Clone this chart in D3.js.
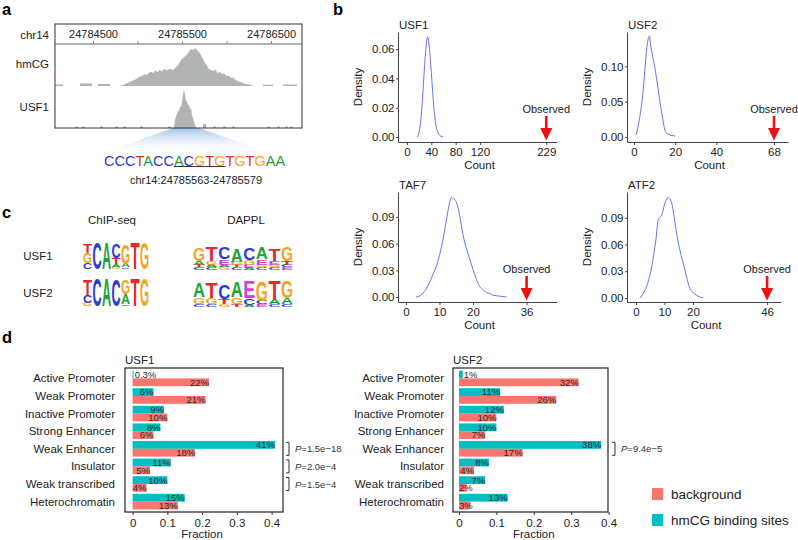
<!DOCTYPE html>
<html><head><meta charset="utf-8">
<script src="https://cdn.jsdelivr.net/npm/d3@7"></script>
<style>
body{margin:0;background:#fff}
svg{display:block;font-family:"Liberation Sans",Arial,sans-serif}
</style></head><body>
<svg id="fig" width="798" height="540"></svg>
<script>
// ---- panel a : genome browser tracks ----
let hmcgPos = [24784800,24784825,24784850,24784875,24784900,24784925,24784950,24784975,24785000,24785025,24785050,24785075,24785100,24785125,24785150,24785175,24785200,24785225,24785250,24785275,24785300,24785325,24785350,24785375,24785400,24785425,24785450,24785475,24785500,24785525,24785550,24785575,24785600,24785625,24785650,24785675,24785700,24785725,24785750,24785775,24785800,24785825,24785850,24785875,24785900,24785925,24785950,24785975,24786000,24786025,24786050,24786075,24786100,24786125,24786150,24786175,24786200,24786225,24786250,24786275,24786300];
let hmcgSig = [0,0.5,1.5,2.5,3.5,4.5,5.5,6.5,8,9.5,10,12,11,13,14.5,13,15.5,14,16,15,17,15.5,16.5,17,16,18.5,20,24,27,29,31,34,37,36,38,35,33,29,24,21,17,16,15,16.5,13,14,12,12.5,10,10.5,8,8.5,6,5,4,3.5,2.5,2,1.5,1,0];
let hmcgFlat = [[24784073,24784163,1],[24784354,24784489,2],[24784556,24784691,1.5],[24786410,24786522,0.8],[24786635,24786792,1]];
let usf1Pos = [24785410,24785421,24785433,24785444,24785455,24785466,24785478,24785489,24785500,24785511,24785522,24785534,24785545,24785556,24785567,24785579,24785590,24785601,24785612,24785624,24785635,24785646,24785657,24785669];
let usf1Sig = [0,8,12,14,18,16,22,20,27,33,39,33,26,28,22,24,18,20,13,10,6,3,1,0];
let usf1Blips = [[24784298,1.5],[24784376,1.5],[24784579,1.5],[24784747,1.5],[24784837,1.5],[24785028,1.5],[24785343,1.5],[24785736,4],[24785848,1.5],[24785961,1.5],[24786062,1.5],[24786455,1.5],[24786567,1.5],[24786657,1.5],[24786713,1.5]];
let browserTicks = [24784500,24785000,24785500,24786000,24786500];
let motifSeq = "CCCTACCACGTGTGTGAA";
let motifRegion = "chr14:24785563-24785579";

// ---- panel b : null distributions ----
let usf1Count = [17,19,21,23,25,27,29,31,33,34,35,36,38,40,42,44,46,48,50,52,54,56,59];
let usf1Dens  = [0,0.002,0.006,0.013,0.023,0.036,0.049,0.060,0.067,0.0685,0.067,0.064,0.055,0.044,0.032,0.021,0.013,0.007,0.004,0.002,0.001,0.0005,0];
let usf2Count = [1,2,3,4,5,6,7,7.5,8,9,10,11,12,13,14,15,16,17,18,19,20];
let usf2Dens  = [0.003,0.015,0.032,0.053,0.085,0.12,0.140,0.143,0.132,0.115,0.100,0.082,0.062,0.042,0.025,0.010,0.005,0.004,0.002,0.002,0.001];
let taf7Count = [3,4,5,6,7,8,9,10,11,12,13,13.6,14,15,16,17,18,19,20,21,22,23,24,25,26,28,30];
let taf7Dens  = [0,0.001,0.004,0.009,0.016,0.025,0.034,0.047,0.064,0.085,0.106,0.112,0.111,0.107,0.092,0.070,0.055,0.043,0.031,0.020,0.012,0.008,0.005,0.004,0.002,0.001,0];
let atf2Count = [1.4,2.5,3.7,5,6.1,7,7.8,8.4,9,10.2,11.3,12.5,13.7,14.5,15.4,16.3,17.2,18,18.9,20,21.3,22.5,23.6];
let atf2Dens  = [0,0.005,0.013,0.027,0.046,0.066,0.088,0.091,0.093,0.107,0.113,0.107,0.084,0.068,0.054,0.042,0.031,0.020,0.011,0.006,0.003,0.001,0];
let observed = {USF1:229, USF2:68, TAF7:36, ATF2:46};

// ---- panel c : motif logos (bottom -> top, fraction of column height) ----
let chipUSF1 = [[["C",0.22],["G",0.38],["T",0.32]],[["C",1]],[["A",1]],[["G",0.08],["A",0.1],["T",0.22],["C",0.55]],[["C",0.06],["A",0.14],["G",0.75]],[["T",1]],[["G",1]]];
let chipUSF2 = [[["G",0.12],["C",0.28],["T",0.55]],[["C",1]],[["A",1]],[["C",0.95]],[["C",0.06],["A",0.38],["G",0.5]],[["T",1]],[["G",1]]];
let dapplUSF1 = [[["C",0.1],["T",0.08],["A",0.16],["G",0.5]],[["C",0.1],["A",0.08],["G",0.14],["T",0.55]],[["G",0.1],["A",0.1],["E",0.2],["C",0.45]],[["C",0.1],["T",0.08],["G",0.12],["A",0.5]],[["A",0.08],["E",0.12],["G",0.18],["C",0.45]],[["C",0.1],["G",0.1],["E",0.2],["A",0.45]],[["C",0.1],["G",0.1],["E",0.15],["T",0.45]],[["E",0.1],["C",0.08],["T",0.15],["G",0.55]]];
let dapplUSF2 = [[["C",0.1],["G",0.25],["A",0.5]],[["C",0.1],["G",0.22],["T",0.55]],[["G",0.1],["T",0.2],["C",0.5]],[["T",0.1],["G",0.25],["A",0.55]],[["A",0.08],["C",0.25],["E",0.6]],[["E",0.1],["C",0.12],["G",0.7]],[["C",0.1],["A",0.2],["T",0.65]],[["C",0.1],["A",0.22],["G",0.6]]];

// ---- panel d : chromatin state fractions ----
let categories = ["Active Promoter","Weak Promoter","Inactive Promoter","Strong Enhancer","Weak Enhancer","Insulator","Weak transcribed","Heterochromatin"];
let usf1Hmcg = [0.003,0.06,0.09,0.08,0.41,0.11,0.10,0.15];
let usf1Bg   = [0.22,0.21,0.10,0.06,0.18,0.05,0.04,0.13];
let usf2Hmcg = [0.01,0.11,0.12,0.10,0.38,0.08,0.07,0.13];
let usf2Bg   = [0.32,0.26,0.10,0.07,0.17,0.04,0.02,0.03];
let usf1PCats = ["Weak Enhancer","Insulator","Weak transcribed"];
let usf1PVals = ["1.5e\u221218","2.0e\u22124","1.5e\u22124"];
let usf2PCats = ["Weak Enhancer"];
let usf2PVals = ["9.4e\u22125"];
let fracTicks = [0,0.1,0.2,0.3,0.4];

const F = '"Liberation Sans", Arial, sans-serif';
const SAL = "#f8766d", TEAL = "#00bfc4";
const baseCol = {A:"#22a336", C:"#2a3bd6", G:"#f2a61e", T:"#e3292b", E:"#d63fd6"};
const svg = d3.select("#fig");

function label(x, y, s, size, anchor){
    return svg.append("text").attr("x", x).attr("y", y).attr("font-size", size)
        .attr("text-anchor", anchor||"start").attr("fill", "#222").text(s);
}

// panel letters
[["a",2,15],["b",333,15],["c",2,218],["d",2,343]].forEach(d=>{
    label(d[1], d[2], d[0], 16.5).attr("font-weight", "bold").attr("fill","#000");
});

// ================= panel a =================
let xA = d3.scaleLinear().domain([24784073, 24786848]).range([55, 302]);
let yH = d3.scaleLinear().domain([0, 40]).range([86, 46]);
let yU = d3.scaleLinear().domain([0, 40]).range([128, 88]);
let trackCol = "#b2b4b4";

let defs = svg.append("defs");
let grad = defs.append("linearGradient").attr("id","fan").attr("x1",0).attr("y1",0).attr("x2",0).attr("y2",1);
grad.append("stop").attr("offset","0").attr("stop-color","#9dbfe6").attr("stop-opacity",0.95);
grad.append("stop").attr("offset","1").attr("stop-color","#ffffff").attr("stop-opacity",0);
svg.append("polygon")
    .attr("points", [[xA(24785400),128],[xA(24785690),128],[272,154],[100,154]].map(p=>p.join(",")).join(" "))
    .attr("fill","url(#fan)");

svg.append("path")
    .attr("d", d3.area().x((d,i)=>xA(hmcgPos[i])).y0(yH(0)).y1(d=>yH(d))(hmcgSig))
    .attr("fill", trackCol);
svg.selectAll("rect.flat").data(hmcgFlat).join("rect").attr("class","flat")
    .attr("x", d=>xA(d[0])).attr("width", d=>xA(d[1])-xA(d[0]))
    .attr("y", d=>yH(d[2])-0.5).attr("height", d=>yH(0)-yH(d[2])+0.5).attr("fill", trackCol);

svg.append("path")
    .attr("d", d3.area().x((d,i)=>xA(usf1Pos[i])).y0(yU(0)).y1(d=>yU(d))(usf1Sig))
    .attr("fill", trackCol);
svg.selectAll("rect.blip").data(usf1Blips).join("rect").attr("class","blip")
    .attr("x", d=>xA(d[0])).attr("width", 3)
    .attr("y", d=>yU(d[1])).attr("height", d=>yU(0)-yU(d[1])).attr("fill", trackCol);

svg.append("rect").attr("x",55).attr("y",24).attr("width",247).attr("height",104)
    .attr("fill","none").attr("stroke","#333").attr("stroke-width",1);
svg.append("line").attr("x1",55).attr("x2",302).attr("y1",44).attr("y2",44)
    .attr("stroke","#666").attr("stroke-width",1);
let axA = svg.append("g").attr("transform","translate(0,44)")
    .call(d3.axisTop(xA).tickValues(browserTicks).tickSize(3).tickPadding(3)
        .tickFormat(d=>d%1000===500 ? d : ""));
axA.select(".domain").remove();
axA.attr("font-family",F).attr("font-size",11).attr("color","#888");
axA.selectAll("text").attr("fill","#222");

label(49, 39, "chr14", 11.5, "end");
label(49, 68, "hmCG", 11.5, "end");
label(49, 111, "USF1", 11.5, "end");

let seqT = label(104, 166, "", 14.5);
seqT.selectAll("tspan").data(motifSeq.split("")).join("tspan")
    .attr("fill", d=>baseCol[d]).text(d=>d);
let sn = seqT.node();
let ux0 = sn.getStartPositionOfChar(7).x, ux1 = sn.getEndPositionOfChar(11).x;
svg.append("line").attr("x1",ux0).attr("x2",ux1).attr("y1",166.5).attr("y2",166.5)
    .attr("stroke","#333").attr("stroke-width",1.2);
label(196, 184, motifRegion, 11, "middle");

// ================= panel b =================
function densityPanel(c){
    let g = svg.append("g");
    let x = d3.scaleLinear().domain(c.xDom).range([c.left, c.right]);
    let y = d3.scaleLinear().domain(c.yDom).range([c.bottom, c.top]);
    let xa = g.append("g").attr("transform",`translate(0,${c.bottom})`)
        .call(d3.axisBottom(x).tickValues(c.xTicks).tickSize(3).tickSizeOuter(0).tickPadding(3).tickFormat(d3.format("d")));
    let ya = g.append("g").attr("transform",`translate(${c.left},0)`)
        .call(d3.axisLeft(y).tickValues(c.yTicks).tickSize(2).tickSizeOuter(0).tickPadding(1.5).tickFormat(d3.format(".2f")));
    [xa, ya].forEach(a=>{
        a.attr("font-family",F).attr("font-size",11.5).attr("color","#444");
        a.selectAll("text").attr("fill","#222");
    });
    g.append("path")
        .attr("d", d3.line().x(d=>x(d[0])).y(d=>y(d[1])).curve(d3.curveMonotoneX)(c.cnt.map((v,i)=>[v,c.dens[i]])))
        .attr("fill","none").attr("stroke","#6674e8").attr("stroke-width",1);
    label(c.left+1, c.top-3, c.name, 11.5);
    label((c.left+c.right)/2+2, c.bottom+27, "Count", 11.5, "middle");
    label(0, 0, "Density", 11.5, "middle")
        .attr("transform", `translate(${c.left-36},${(c.top+c.bottom)/2})rotate(-90)`);
    let ox = x(c.obs);
    label(ox, c.bottom-29, "Observed", 11, "middle");
    g.append("line").attr("x1",ox).attr("x2",ox).attr("y1",c.bottom-26).attr("y2",c.bottom-11)
        .attr("stroke","#ee1111").attr("stroke-width",2.6);
    g.append("path").attr("d",`M${ox-6},${c.bottom-14}L${ox+6},${c.bottom-14}L${ox},${c.bottom-1.5}Z`)
        .attr("fill","#ee1111");
}
densityPanel({name:"USF1", cnt:usf1Count, dens:usf1Dens, obs:observed.USF1,
    left:398, right:557, top:32, bottom:142, xDom:[-14.8,246.7], yDom:[-0.0034,0.0717],
    xTicks:[0,40,80,120,observed.USF1], yTicks:[0,0.02,0.04,0.06]});
densityPanel({name:"USF2", cnt:usf2Count, dens:usf2Dens, obs:observed.USF2,
    left:627, right:788, top:32, bottom:142, xDom:[-3.4,74.8], yDom:[-0.0071,0.1487],
    xTicks:[0,20,40,observed.USF2], yTicks:[0,0.05,0.10]});
densityPanel({name:"TAF7", cnt:taf7Count, dens:taf7Dens, obs:observed.TAF7,
    left:398, right:557, top:192, bottom:302, xDom:[-2.39,45.07], yDom:[-0.0056,0.118],
    xTicks:[0,10,20,observed.TAF7], yTicks:[0,0.03,0.06,0.09]});
densityPanel({name:"ATF2", cnt:atf2Count, dens:atf2Dens, obs:observed.ATF2,
    left:627, right:781, top:192, bottom:302, xDom:[-3.16,50.88], yDom:[-0.0045,0.119],
    xTicks:[0,10,20,observed.ATF2], yTicks:[0,0.03,0.06,0.09]});

// ================= panel c =================
label(112, 224, "ChIP-seq", 11.5, "middle");
label(246, 224, "DAPPL", 11.5, "middle");
label(38, 260, "USF1", 11.5, "middle");
label(38, 297, "USF2", 11.5, "middle");

function drawLogo(stacks, x0, x1, yb, h){
    let xs = d3.scaleBand().domain(d3.range(stacks.length)).range([x0, x1]).paddingInner(0.04);
    let g = svg.append("g");
    stacks.forEach((st, i)=>{
        let yc = yb;
        st.forEach(([b, f])=>{
            let lh = f*h;
            g.append("text").attr("x",0).attr("y",0).attr("font-size",20).attr("font-weight","bold")
                .attr("textLength", xs.bandwidth()).attr("lengthAdjust","spacingAndGlyphs")
                .attr("fill", baseCol[b])
                .attr("transform", `translate(${xs(i)},${yc})scale(1,${lh/(0.72*20)})`)
                .text(b);
            yc -= lh;
        });
    });
}
drawLogo(chipUSF1, 83, 149, 269, 27);
drawLogo(chipUSF2, 83, 149, 306, 28);
drawLogo(dapplUSF1, 193, 293, 270, 27);
drawLogo(dapplUSF2, 193, 293, 307, 28);

// ================= panel d =================
function pct(v){ return (v < 0.01 ? (v*100).toFixed(1) : Math.round(v*100)) + "%"; }

function barPanel(c){
    let g = svg.append("g");
    let x = d3.scaleLinear().domain([0,0.4]).range([c.x0, c.x1]);
    let y = d3.scalePoint().domain(categories).range([368,512]).padding(0.59);
    let bh = 7.8;
    let rows = categories.map((k,i)=>({k, hm:c.hm[i], bg:c.bg[i]}));
    g.selectAll("rect.hm").data(rows).join("rect").attr("class","hm")
        .attr("x", x(0)).attr("width", d=>x(d.hm)-x(0))
        .attr("y", d=>y(d.k)-bh).attr("height", bh).attr("fill", TEAL);
    g.selectAll("rect.bg").data(rows).join("rect").attr("class","bg")
        .attr("x", x(0)).attr("width", d=>x(d.bg)-x(0))
        .attr("y", d=>y(d.k)).attr("height", bh).attr("fill", SAL);
    let labs = [];
    rows.forEach(d=>{
        labs.push({v:d.hm, yc:y(d.k)-bh/2});
        labs.push({v:d.bg, yc:y(d.k)+bh/2});
    });
    g.selectAll("text.pc").data(labs).join("text").attr("class","pc")
        .attr("font-size",9.5).attr("fill","#2a2a2a")
        .attr("y", d=>d.yc+3.4)
        .attr("x", d=>d.v<0.015 ? x(d.v)+1 : x(d.v))
        .attr("text-anchor", d=>d.v<0.015 ? "start" : "end")
        .text(d=>pct(d.v))
        .each(function(d){
            if(d.v>=0.015 && this.getComputedTextLength() > x(d.v)-x(0)+0.5){
                d3.select(this).attr("x", x(0)).attr("text-anchor","start");
            }
        });
    g.append("rect").attr("x",c.boxL).attr("y",368).attr("width",c.boxR-c.boxL).attr("height",144)
        .attr("fill","none").attr("stroke","#222").attr("stroke-width",1.2);
    let ax = g.append("g").attr("transform","translate(0,512)")
        .call(d3.axisBottom(x).tickValues(fracTicks).tickSize(3).tickPadding(4)
            .tickFormat(d=>d===0 ? "0" : d3.format(".1f")(d)));
    ax.select(".domain").remove();
    ax.attr("font-family",F).attr("font-size",11.5).attr("color","#333");
    ax.selectAll("text").attr("fill","#222");
    g.selectAll("text.cat").data(categories).join("text").attr("class","cat")
        .attr("x", c.labX).attr("y", d=>y(d)+4).attr("text-anchor","end")
        .attr("font-size",11.5).attr("fill","#222").text(d=>d);
    label(c.boxL, 364, c.name, 11.5);
    label((x(0)+x(0.4))/2, 538, "Fraction", 11.5, "middle");
    c.pCats.forEach((k,i)=>{
        let yc = y(k);
        g.append("path").attr("d",`M${c.pX},${yc-6.5}h3v13h-3`).attr("fill","none")
            .attr("stroke","#333").attr("stroke-width",1);
        let t = g.append("text").attr("x", c.pX+9).attr("y", yc+3.5).attr("font-size",9.5).attr("fill","#333");
        t.append("tspan").attr("font-style","italic").text("P");
        t.append("tspan").text("=" + c.pVals[i]);
    });
}
barPanel({name:"USF1", hm:usf1Hmcg, bg:usf1Bg, x0:132.6, x1:271.6, boxL:125, boxR:283, labX:115,
    pCats:usf1PCats, pVals:usf1PVals, pX:286});
barPanel({name:"USF2", hm:usf2Hmcg, bg:usf2Bg, x0:459, x1:608.6, boxL:453, boxR:608, labX:444,
    pCats:usf2PCats, pVals:usf2PVals, pX:612});

// legend
let legend = [["background", SAL], ["hmCG binding sites", TEAL]];
legend.forEach((d,i)=>{
    svg.append("rect").attr("x",652).attr("y",488+26*i).attr("width",11).attr("height",12).attr("fill",d[1]);
    label(671, 499+26*i, d[0], 13.5);
});
</script></body></html>
